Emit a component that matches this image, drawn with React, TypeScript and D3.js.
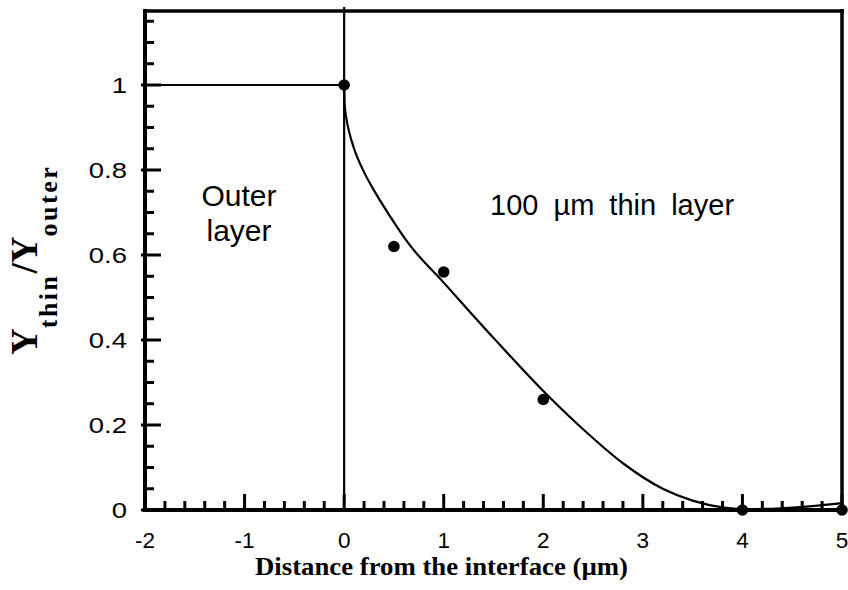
import React from "react";
import * as d3 from "d3";

const xMajorTicks = [-2, -1, 0, 1, 2, 3, 4, 5];
const xTickLabels = ["-2", "-1", "0", "1", "2", "3", "4", "5"];
const yMajorTicks = [0, 0.2, 0.4, 0.6, 0.8, 1];
const yTickLabels = ["0", "0.2", "0.4", "0.6", "0.8", "1"];

// measured points (circles)
const pointX = [0, 0.5, 1, 2, 4, 5];
const pointY = [1, 0.62, 0.56, 0.26, 0, 0];

// model curve (thin layer)
const curveX = [0, 0.005, 0.02, 0.05, 0.1, 0.2, 0.3, 0.45, 0.65, 1.0, 1.5, 2.0, 2.4, 2.8, 3.2, 3.5, 3.8, 4.0, 4.3, 4.7, 5.0];
const curveY = [1, 0.955, 0.925, 0.89, 0.85, 0.795, 0.752, 0.695, 0.626, 0.535, 0.405, 0.28, 0.19, 0.11, 0.05, 0.022, 0.006, 0.002, 0.003, 0.009, 0.016];

// outer layer profile
const outerX = [-2, 0];
const outerY = [1, 1];

const W = 848;
const H = 590;

export default function App() {
  const x = d3.scaleLinear().domain([-2, 5]).range([145, 842]);
  const y = d3.scaleLinear().domain([0, 1]).range([510, 85]);
  const yTop = 1.174;

  const xMinor = d3.range(-2, 5.0001, 0.2).filter((v) => Math.abs(v - Math.round(v)) > 1e-6);
  const yMinor = d3.range(0, 1.16, 0.05).filter((v) => Math.abs(v * 5 - Math.round(v * 5)) > 1e-6);

  const line = d3
    .line<number>()
    .x((_, i) => x(curveX[i]))
    .y((_, i) => y(curveY[i]))
    .curve(d3.curveMonotoneX);
  const curvePath = line(curveX) || "";

  const sans = "'Liberation Sans', Arial, Helvetica, sans-serif";
  const serif = "'Liberation Serif', 'Times New Roman', serif";

  return (
    <svg width={W} height={H} style={{ position: "absolute", left: 0, top: 0, background: "#fff" }}>
      <rect x={0} y={0} width={W} height={H} fill="#fff" />
      {/* minor ticks */}
      {xMinor.map((v, i) => (
        <line key={"xm" + i} x1={x(v)} x2={x(v)} y1={y(0)} y2={y(0) - 9} stroke="#000" strokeWidth={3} />
      ))}
      {xMajorTicks.map((v, i) => (
        <line key={"xM" + i} x1={x(v)} x2={x(v)} y1={y(0)} y2={y(0) - 16} stroke="#000" strokeWidth={3} />
      ))}
      {yMinor.map((v, i) => (
        <line key={"ym" + i} x1={x(-2)} x2={x(-2) + 9} y1={y(v)} y2={y(v)} stroke="#000" strokeWidth={3} />
      ))}
      {yMajorTicks.map((v, i) => (
        <line key={"yM" + i} x1={x(-2) - 4} x2={x(-2) + 16} y1={y(v)} y2={y(v)} stroke="#000" strokeWidth={3} />
      ))}

      {/* outer layer line and interface */}
      <line x1={x(outerX[0]) - 3} x2={x(outerX[1])} y1={y(outerY[0])} y2={y(outerY[1])} stroke="#000" strokeWidth={2.2} />
      <line x1={x(0)} x2={x(0)} y1={y(yTop) - 4} y2={y(0)} stroke="#000" strokeWidth={2.2} />

      {/* curve */}
      <path d={curvePath} fill="none" stroke="#000" strokeWidth={2.2} />

      {/* frame */}
      <line x1={x(-2)} x2={x(-2)} y1={y(yTop) - 2} y2={y(0) + 2} stroke="#000" strokeWidth={4} />
      <line x1={x(-2) - 2} x2={x(5) + 2} y1={y(0)} y2={y(0)} stroke="#000" strokeWidth={4} />
      <line x1={x(-2) - 2} x2={x(5) + 2} y1={y(yTop)} y2={y(yTop)} stroke="#000" strokeWidth={3.5} />
      <line x1={x(5)} x2={x(5)} y1={y(yTop) - 2} y2={y(0) + 2} stroke="#000" strokeWidth={3.5} />

      {/* points */}
      {pointX.map((v, i) => (
        <circle key={"p" + i} cx={x(v)} cy={y(pointY[i])} r={5.8} fill="#000" />
      ))}

      {/* x tick labels */}
      {xMajorTicks.map((v, i) => (
        <text key={"xl" + i} x={x(v)} y={548} textAnchor="middle" fontFamily={sans} fontSize={22.5} fill="#000">
          {xTickLabels[i]}
        </text>
      ))}
      {/* y tick labels */}
      {yMajorTicks.map((v, i) => (
        <text
          key={"yl" + i}
          transform={`translate(127,${y(v) + 8}) scale(1.22,1)`}
          textAnchor="end"
          fontFamily={sans}
          fontSize={22.5}
          fill="#000"
        >
          {yTickLabels[i]}
        </text>
      ))}

      {/* annotations */}
      <text x={239} y={206} textAnchor="middle" fontFamily={sans} fontSize={30} fill="#000">Outer</text>
      <text x={239} y={241} textAnchor="middle" fontFamily={sans} fontSize={30} fill="#000">layer</text>
      <text x={490} y={215} fontFamily={sans} fontSize={29} wordSpacing={7} fill="#000">100 µm thin layer</text>

      {/* axis titles */}
      <text
        x={255}
        y={575}
        fontFamily={serif}
        fontWeight="bold"
        fontSize={25.5}
        textLength={373}
        lengthAdjust="spacingAndGlyphs"
        fill="#000"
      >
        Distance from the interface (µm)
      </text>
      <text
        transform="translate(37,355) rotate(-90)"
        fontFamily={serif}
        fontWeight="bold"
        fill="#000"
      >
        <tspan fontSize={37}>Y</tspan>
        <tspan fontSize={26} dy={20} letterSpacing={2.5}>thin</tspan>
        <tspan fontSize={37} dy={-20}>/Y</tspan>
        <tspan fontSize={26} dy={20} letterSpacing={2.5}>outer</tspan>
      </text>
    </svg>
  );
}
